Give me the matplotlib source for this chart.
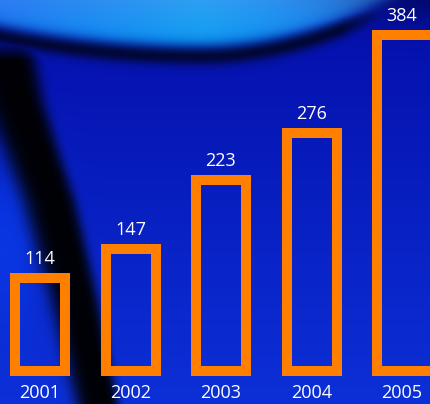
import numpy as np
import matplotlib
matplotlib.use('Agg')
import matplotlib.pyplot as plt

# chart data
years = ['2001', '2002', '2003', '2004', '2005']
values = [114, 147, 223, 276, 384]

W, H = 431, 404
fig = plt.figure(figsize=(W / 100, H / 100), dpi=100)
ax = fig.add_axes([0, 0, 1, 1])

# axis limits: bars 90.5 px apart, 0.9 px per unit
xmin, xmax = -40 / 90.5, (W - 40) / 90.5
ymin, ymax = -(H - 376) / 0.9, 376 / 0.9
ax.set_xlim(xmin, xmax)
ax.set_ylim(ymin, ymax)
ax.axis('off')

# --- background picture (smooth blue photo-like backdrop) ---
X, Y = np.meshgrid(np.arange(W, dtype=float), np.arange(H, dtype=float))
t = Y / H
r = 4 + 8 * t
g = 14 + 34 * t
b = 170 + 45 * t
# lighter area at left edge
lift = np.exp(-((X - 5) / 40) ** 2) * np.exp(-((Y - 230) / 90) ** 2)
g += 20 * lift
b += 30 * lift

# cyan arc at top
yb = np.where(X < 200, 45 - 0.0005 * (X - 200) ** 2, 45 - 0.00138 * (X - 200) ** 2)
arc = 1 / (1 + np.exp(-(yb - Y) / 4))
arc_col = (np.clip(15 + 30 * (1 - Y / 40), 0, 50),
           np.clip(115 + 45 * (1 - np.abs(X - 200) / 250), 0, 255),
           242 + 0 * X)
r = r * (1 - arc) + arc_col[0] * arc
g = g * (1 - arc) + arc_col[1] * arc
b = b * (1 - arc) + arc_col[2] * arc

# shadow below arc
shadow = np.exp(-((Y - yb - 11) / 9) ** 2) * np.clip((400 - X) / 60, 0, 1) * 0.7
# dark diagonal streak on left
xs = np.interp(Y, [40, 100, 200, 300, 404], [5, 20, 55, 80, 102])
sig = np.interp(Y, [40, 150, 404], [34, 27, 21])
sig = np.where(X < xs, sig * 1.3, sig * 0.8)
streak = np.exp(-((X - xs) / sig) ** 4) * np.clip((Y - 35) / 25, 0, 1) * 0.97
# darker top right corner
corner = 0.35 * np.exp(-(((X - 431) / 90) ** 2 + ((Y + 5) / 30) ** 2))
dark = 1 - np.clip(np.maximum.reduce([shadow, streak, corner]), 0, 1)
img = np.dstack([r * dark, g * dark, b * dark]) / 255
ax.imshow(np.clip(img, 0, 1), extent=(xmin, xmax, ymin, ymax),
          aspect='auto', zorder=0, interpolation='bilinear')

# --- outlined bars (stroke drawn inside the bar) ---
x = np.arange(len(years))
bars = ax.bar(x, values, width=60 / 90.5, facecolor='none', edgecolor='#ff8000',
              linewidth=20 * 0.72, joinstyle='miter', zorder=2)
for p in bars:
    p.set_clip_path(p)

for xi, v, yr in zip(x, values, years):
    ax.annotate(str(v), (xi, v), xytext=(0, 9 * 0.72), textcoords='offset points',
                ha='center', va='baseline', color='white', fontsize=13,
                family='Open Sans', zorder=3)
    ax.annotate(yr, (xi, 0), xytext=(0, -22 * 0.72), textcoords='offset points',
                ha='center', va='baseline', color='white', fontsize=13,
                family='Open Sans', zorder=3)

fig.savefig('out.png', dpi=100)
